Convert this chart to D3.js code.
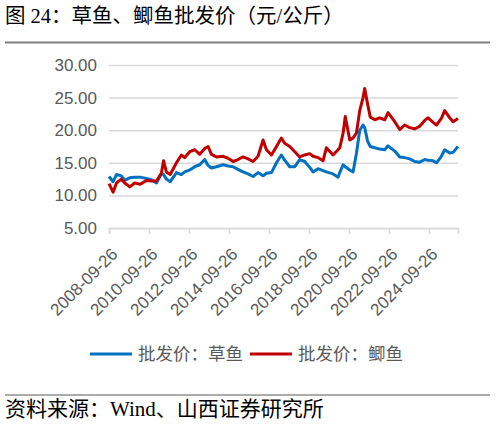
<!DOCTYPE html>
<html>
<head>
<meta charset="utf-8">
<script src="https://cdn.jsdelivr.net/npm/d3@7"></script>
<style>
    body { margin: 0; background: #fff; }
    svg { display: block; }
</style>
</head>
<body>
<svg id="chart"></svg>
<script>
// weekly wholesale prices at roughly 2-3 month steps
const dates = ['2008-09-26', '2008-12-10', '2009-02-10', '2009-05-10', '2009-07-10', '2009-10-10',
    '2010-01-10', '2010-04-20', '2010-08-10', '2010-11-10', '2011-02-10', '2011-05-10', '2011-06-20',
    '2011-08-10', '2011-10-20', '2012-02-10', '2012-05-10', '2012-07-10', '2012-10-10', '2013-01-10',
    '2013-04-10', '2013-07-10', '2013-09-10', '2013-11-10', '2014-02-10', '2014-06-10', '2014-09-10',
    '2014-12-10', '2015-03-10', '2015-06-10', '2015-09-10', '2015-12-10', '2016-03-10', '2016-06-10',
    '2016-08-10', '2016-11-10', '2017-02-10', '2017-05-10', '2017-07-10', '2017-10-10', '2018-01-10',
    '2018-04-10', '2018-07-10', '2018-10-10', '2018-12-10', '2019-03-10', '2019-06-10', '2019-08-10',
    '2019-12-10', '2020-03-10', '2020-04-10', '2020-06-10', '2020-07-20', '2020-10-10', '2020-12-10',
    '2021-02-10', '2021-04-10', '2021-06-10', '2021-07-10', '2021-09-01', '2021-10-20', '2022-01-10',
    '2022-04-10', '2022-07-10', '2022-09-10', '2023-01-10', '2023-04-10', '2023-07-10', '2023-10-10',
    '2024-01-10', '2024-04-10', '2024-07-10', '2024-09-10', '2024-12-10', '2025-02-10', '2025-05-10',
    '2025-07-10', '2025-10-10', '2025-12-10', '2026-03-10'];

const grassCarp = [12.9, 12.1, 13.2, 13.0, 12.3, 12.7,
    12.8, 12.8, 12.6, 12.4, 11.9, 13.3, 13.2,
    12.5, 12.1, 13.5, 13.2, 13.6, 13.9, 14.4,
    14.7, 15.5, 14.6, 14.2, 14.4, 14.7, 14.5,
    14.4, 14.0, 13.6, 13.3, 12.9, 13.5, 13.0,
    13.4, 13.5, 15.0, 16.2, 15.4, 14.4, 14.4,
    15.5, 15.2, 14.3, 13.6, 14.1, 13.8, 13.6,
    13.3, 12.8, 13.5, 14.7, 14.4, 13.9, 13.6,
    16.5, 20.0, 20.8, 20.4, 18.3, 17.5, 17.3,
    17.1, 17.0, 17.6, 16.8, 15.9, 15.8, 15.6,
    15.2, 15.1, 15.5, 15.4, 15.3, 15.0, 16.0,
    17.0, 16.5, 16.6, 17.5];

const crucianCarp = [11.8, 10.5, 11.9, 12.5, 11.9, 11.3,
    11.9, 11.7, 12.3, 12.2, 12.2, 13.4, 15.3,
    13.6, 13.2, 15.0, 16.2, 15.8, 16.7, 17.0,
    16.3, 17.2, 17.5, 16.3, 15.9, 16.0, 15.7,
    15.2, 15.5, 15.9, 15.6, 15.2, 16.0, 18.5,
    17.0, 16.2, 17.5, 18.8, 18.0, 17.5, 16.7,
    15.9, 16.2, 16.4, 16.0, 15.8, 15.3, 17.3,
    16.2, 17.0, 17.3, 19.5, 22.1, 18.5, 18.8,
    19.6, 23.0, 25.0, 26.4, 24.0, 22.0, 21.6,
    21.9, 21.6, 22.7, 21.3, 20.1, 20.8, 20.4,
    20.2, 20.6, 21.5, 21.9, 21.2, 20.8, 21.8,
    23.0, 21.9, 21.3, 21.8];

const seriesNames = ['批发价：草鱼', '批发价：鲫鱼'];
const seriesColors = ['#0070C0', '#C00000'];
const yTicks = [5, 10, 15, 20, 25, 30];
const xTickLabels = ['2008-09-26', '2010-09-26', '2012-09-26', '2014-09-26', '2016-09-26',
    '2018-09-26', '2020-09-26', '2022-09-26', '2024-09-26'];

class LineChart {
    constructor(_config, _data) {
        this.config = {
            parentElement: _config.parentElement,
            containerWidth: _config.containerWidth || 496,
            containerHeight: _config.containerHeight || 424,
            margin: { top: 65, bottom: 196, right: 38, left: 109 }
        }
        this.data = _data;
        this.initVis();
    }

    initVis() {
        let vis = this;
        vis.width = vis.config.containerWidth - vis.config.margin.left - vis.config.margin.right;
        vis.height = vis.config.containerHeight - vis.config.margin.top - vis.config.margin.bottom;

        vis.svg = d3.select(vis.config.parentElement)
            .attr('width', vis.config.containerWidth)
            .attr('height', vis.config.containerHeight);

        // title + rules around the figure
        vis.svg.append('text')
            .attr('x', 5)
            .attr('y', 23)
            .style('font-family', '"Liberation Serif", "Noto Sans CJK SC"')
            .style('font-size', '20.5px')
            .style('fill', '#000')
            .text('图 24：草鱼、鲫鱼批发价（元/公斤）');

        vis.svg.append('line')
            .attr('x1', 5).attr('x2', 490)
            .attr('y1', 42.5).attr('y2', 42.5)
            .style('stroke', '#7f7f7f')
            .style('stroke-width', 2);

        vis.svg.append('line')
            .attr('x1', 5).attr('x2', 490)
            .attr('y1', 395).attr('y2', 395)
            .style('stroke', '#595959')
            .style('stroke-width', 1);

        vis.svg.append('text')
            .attr('x', 5)
            .attr('y', 416)
            .style('font-family', '"Liberation Serif", "Noto Sans CJK SC"')
            .style('font-size', '21px')
            .style('fill', '#000')
            .text('资料来源：Wind、山西证券研究所');

        vis.chart = vis.svg.append('g')
            .attr('transform', `translate(${vis.config.margin.left},${vis.config.margin.top})`);

        vis.xScale = d3.scaleTime()
            .domain([vis.data.dates[0], vis.data.dates[vis.data.dates.length - 1]])
            .range([0, vis.width]);

        vis.yScale = d3.scaleLinear()
            .domain([5, 30])
            .range([vis.height, 0]);

        vis.updateVis();
    }

    updateVis() {
        let vis = this;
        const parse = d3.timeParse('%Y-%m-%d');

        // gridlines + y labels
        vis.chart.append('g')
            .call(d3.axisLeft(vis.yScale)
                .tickValues(yTicks)
                .tickSize(-vis.width)
                .tickPadding(12)
                .tickFormat(d3.format('.2f')))
            .call(g => g.select('.domain').remove())
            .call(g => g.selectAll('.tick line')
                .style('stroke', '#d9d9d9')
                .style('stroke-width', 1.5))
            .call(g => g.selectAll('.tick text')
                .style('font-family', '"Liberation Sans", Arial, sans-serif')
                .style('font-size', '17px')
                .style('fill', '#595959'));

        // date axis
        vis.xAxis = vis.chart.append('g')
            .attr('transform', `translate(0,${vis.height})`)
            .call(d3.axisBottom(vis.xScale)
                .tickValues(xTickLabels.map(parse))
                .tickSize(6)
                .tickFormat(d3.timeFormat('%Y-%m-%d')));

        vis.xAxis.select('.domain')
            .style('stroke', '#d9d9d9')
            .style('stroke-width', 1.5);
        vis.xAxis.selectAll('.tick line')
            .style('stroke', '#d9d9d9')
            .style('stroke-width', 1.5);
        vis.xAxis.selectAll('.tick text')
            .attr('transform', 'translate(5,23) rotate(-45)')
            .attr('y', 0)
            .attr('dy', '0.35em')
            .style('text-anchor', 'end')
            .style('font-family', '"Liberation Sans", Arial, sans-serif')
            .style('font-size', '17px')
            .style('fill', '#595959');

        const line = d3.line()
            .x((d, i) => vis.xScale(vis.data.dates[i]))
            .y(d => vis.yScale(d))
            .curve(d3.curveLinear);

        vis.chart.selectAll('.series')
            .data(vis.data.series)
            .join('path')
            .attr('class', 'series')
            .attr('d', d => line(d.values))
            .style('fill', 'none')
            .style('stroke', d => d.color)
            .style('stroke-width', 3)
            .style('stroke-linejoin', 'round');

        // legend below the axis labels
        const legendX = [90, 250];
        vis.legend = vis.svg.append('g');
        vis.legend.selectAll('line')
            .data(vis.data.series)
            .join('line')
            .attr('x1', (d, i) => legendX[i])
            .attr('x2', (d, i) => legendX[i] + 42)
            .attr('y1', 354)
            .attr('y2', 354)
            .style('stroke', d => d.color)
            .style('stroke-width', 3);

        vis.legend.selectAll('text')
            .data(vis.data.series)
            .join('text')
            .attr('x', (d, i) => legendX[i] + 48)
            .attr('y', 354)
            .attr('dy', '0.36em')
            .style('font-family', '"Noto Sans CJK SC", sans-serif')
            .style('font-size', '17.5px')
            .style('fill', '#595959')
            .text(d => d.name);
    }
}

const parseDate = d3.timeParse('%Y-%m-%d');
const chartData = {
    dates: dates.map(parseDate),
    series: [
        { name: seriesNames[0], color: seriesColors[0], values: grassCarp },
        { name: seriesNames[1], color: seriesColors[1], values: crucianCarp }
    ]
};

new LineChart({ parentElement: '#chart' }, chartData);
</script>
</body>
</html>
